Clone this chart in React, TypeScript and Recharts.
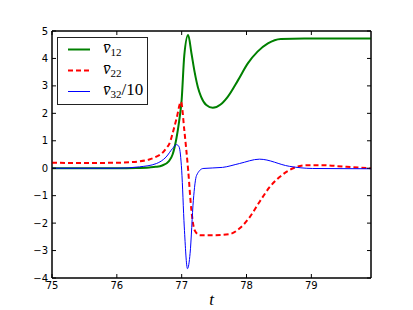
import { LineChart, Line, XAxis, YAxis, Legend, ReferenceArea } from "recharts";

// time samples and values, one pair of arrays per curve
const t12 = [75, 76, 76.3, 76.5, 76.6, 76.7, 76.8, 76.86, 76.92, 76.96, 77.0, 77.04, 77.1, 77.15, 77.2, 77.25, 77.3, 77.38, 77.48, 77.6, 77.71, 77.87, 78.02, 78.17, 78.33, 78.53, 78.89, 79.92];
const v12 = [0, 0, 0.01, 0.03, 0.05, 0.1, 0.25, 0.5, 1.1, 1.7, 2.5, 4.1, 4.85, 4.2, 3.5, 2.95, 2.6, 2.3, 2.2, 2.32, 2.6, 3.21, 3.82, 4.25, 4.55, 4.71, 4.73, 4.73];

const t22 = [75, 75.5, 76.0, 76.2, 76.35, 76.5, 76.61, 76.7, 76.76, 76.82, 76.86, 76.92, 76.99, 77.04, 77.1, 77.15, 77.2, 77.28, 77.5, 77.74, 77.89, 78.05, 78.2, 78.36, 78.51, 78.71, 78.92, 79.17, 79.54, 79.92];
const v22 = [0.2, 0.19, 0.2, 0.22, 0.25, 0.32, 0.42, 0.55, 0.72, 0.95, 1.27, 1.8, 2.42, 1.4, -0.07, -1.53, -2.26, -2.44, -2.44, -2.4, -2.2, -1.78, -1.23, -0.68, -0.32, -0.01, 0.11, 0.11, 0.05, 0.0];

const t32 = [75, 76, 76.35, 76.61, 76.76, 76.86, 76.92, 76.96, 77.0, 77.04, 77.09, 77.13, 77.18, 77.23, 77.33, 77.63, 77.89, 78.2, 78.66, 79.02, 79.92];
const v32 = [0, 0, 0.05, 0.17, 0.41, 0.72, 0.86, 0.78, -0.07, -2.14, -3.66, -3.1, -1.17, -0.26, -0.01, 0.03, 0.17, 0.33, 0.07, -0.01, -0.02];

const xTicks = [75, 76, 77, 78, 79];
const yTicks = [-4, -3, -2, -1, 0, 1, 2, 3, 4, 5];
const xDomain = [75, 79.92];
const yDomain = [-4, 5];

const legendSubs = ["12", "22", "32"];
const legendSuffix = ["", "", "/10"];

const zip = (ts: number[], vs: number[]) => ts.map((t, i) => ({ t, v: vs[i] }));

const tickFont = { fontSize: 10, fill: "#000", fontFamily: "DejaVu Sans" };
const fmt = (v: number) => (v < 0 ? "\u2212" + Math.abs(v) : String(v));
const blank = () => "";
const mathFont = "'Liberation Serif', 'DejaVu Serif', serif";

function LegendBox(props: any) {
  const items = (props.payload ?? []).filter((p: any) => p.type !== "none");
  return (
    <div
      style={{
        width: 89,
        height: 66,
        border: "1px solid #222",
        background: "#fff",
        position: "relative",
        fontFamily: mathFont,
      }}
    >
      {items.map((it: any, i: number) => (
        <div key={i} style={{ position: "absolute", left: 0, top: 1 + i * 21, height: 21, width: 89 }}>
          <svg width={40} height={21} style={{ position: "absolute", left: 0, top: 0 }}>
            <line
              x1={10}
              x2={32}
              y1={10.5}
              y2={10.5}
              stroke={it.color}
              strokeWidth={i === 2 ? 1 : 2}
              strokeDasharray={i === 1 ? "5 3" : undefined}
            />
          </svg>
          <span style={{ position: "absolute", left: 45, top: -2, fontSize: 17, whiteSpace: "nowrap", lineHeight: "22px" }}>
            <i>v&#x0304;</i>
            <sub style={{ fontSize: 11, verticalAlign: "-3px" }}>{legendSubs[i]}</sub>
            {legendSuffix[i]}
          </span>
        </div>
      ))}
    </div>
  );
}

export default function App() {
  return (
    <div style={{ position: "absolute", left: 0, top: 0, background: "#fff" }}>
      <LineChart width={413} height={310} margin={{ top: 11, right: 22, left: 12, bottom: 2 }}>
        <XAxis
          xAxisId="b"
          dataKey="t"
          type="number"
          domain={xDomain}
          ticks={xTicks}
          interval={0}
          height={30}
          tickSize={-4}
          tickMargin={8}
          tick={tickFont}
          axisLine={{ stroke: "#000" }}
          tickLine={{ stroke: "#000" }}
          label={{ value: "t", position: "insideBottom", offset: 3, style: { fontSize: 17, fontStyle: "italic", fontFamily: mathFont, fill: "#000" } }}
        />
        {/* mirrored axes: only the inward tick marks, no labels */}
        <XAxis
          xAxisId="top"
          orientation="top"
          dataKey="t"
          type="number"
          domain={xDomain}
          ticks={xTicks}
          interval={0}
          height={20}
          tickSize={-4}
          tick={tickFont}
          tickFormatter={blank}
          axisLine={{ stroke: "#000" }}
          tickLine={{ stroke: "#000" }}
        />
        <YAxis
          yAxisId="l"
          type="number"
          domain={yDomain}
          ticks={yTicks}
          interval={0}
          width={40}
          tickSize={-4}
          tickMargin={8}
          tick={tickFont}
          tickFormatter={fmt}
          axisLine={{ stroke: "#000" }}
          tickLine={{ stroke: "#000" }}
        />
        <YAxis
          yAxisId="r"
          orientation="right"
          type="number"
          domain={yDomain}
          ticks={yTicks}
          interval={0}
          width={20}
          tickSize={-4}
          tick={tickFont}
          tickFormatter={blank}
          axisLine={{ stroke: "#000" }}
          tickLine={{ stroke: "#000" }}
        />
        <ReferenceArea xAxisId="b" yAxisId="l" x1={75} x2={79.92} y1={-4} y2={5} fill="none" stroke="#000" ifOverflow="visible" />
        <Legend
          layout="vertical"
          align="center"
          verticalAlign="middle"
          content={<LegendBox />}
          wrapperStyle={{ left: 57, top: 37, width: 91, height: 68 }}
        />
        <Line
          xAxisId="b"
          yAxisId="l"
          data={zip(t12, v12)}
          dataKey="v"
          name="v12"
          type="monotone"
          stroke="#008000"
          strokeWidth={2}
          dot={false}
          isAnimationActive={false}
        />
        <Line
          xAxisId="b"
          yAxisId="l"
          data={zip(t22, v22)}
          dataKey="v"
          name="v22"
          type="monotone"
          stroke="#ff0000"
          strokeWidth={2}
          strokeDasharray="5 3"
          dot={false}
          isAnimationActive={false}
        />
        <Line
          xAxisId="b"
          yAxisId="l"
          data={zip(t32, v32)}
          dataKey="v"
          name="v32"
          type="monotone"
          stroke="#0000ff"
          strokeWidth={1}
          dot={false}
          isAnimationActive={false}
        />
        <Line
          xAxisId="top"
          yAxisId="r"
          data={zip(t12, v12)}
          dataKey="v"
          stroke="none"
          legendType="none"
          dot={false}
          activeDot={false}
          isAnimationActive={false}
        />
      </LineChart>
    </div>
  );
}
